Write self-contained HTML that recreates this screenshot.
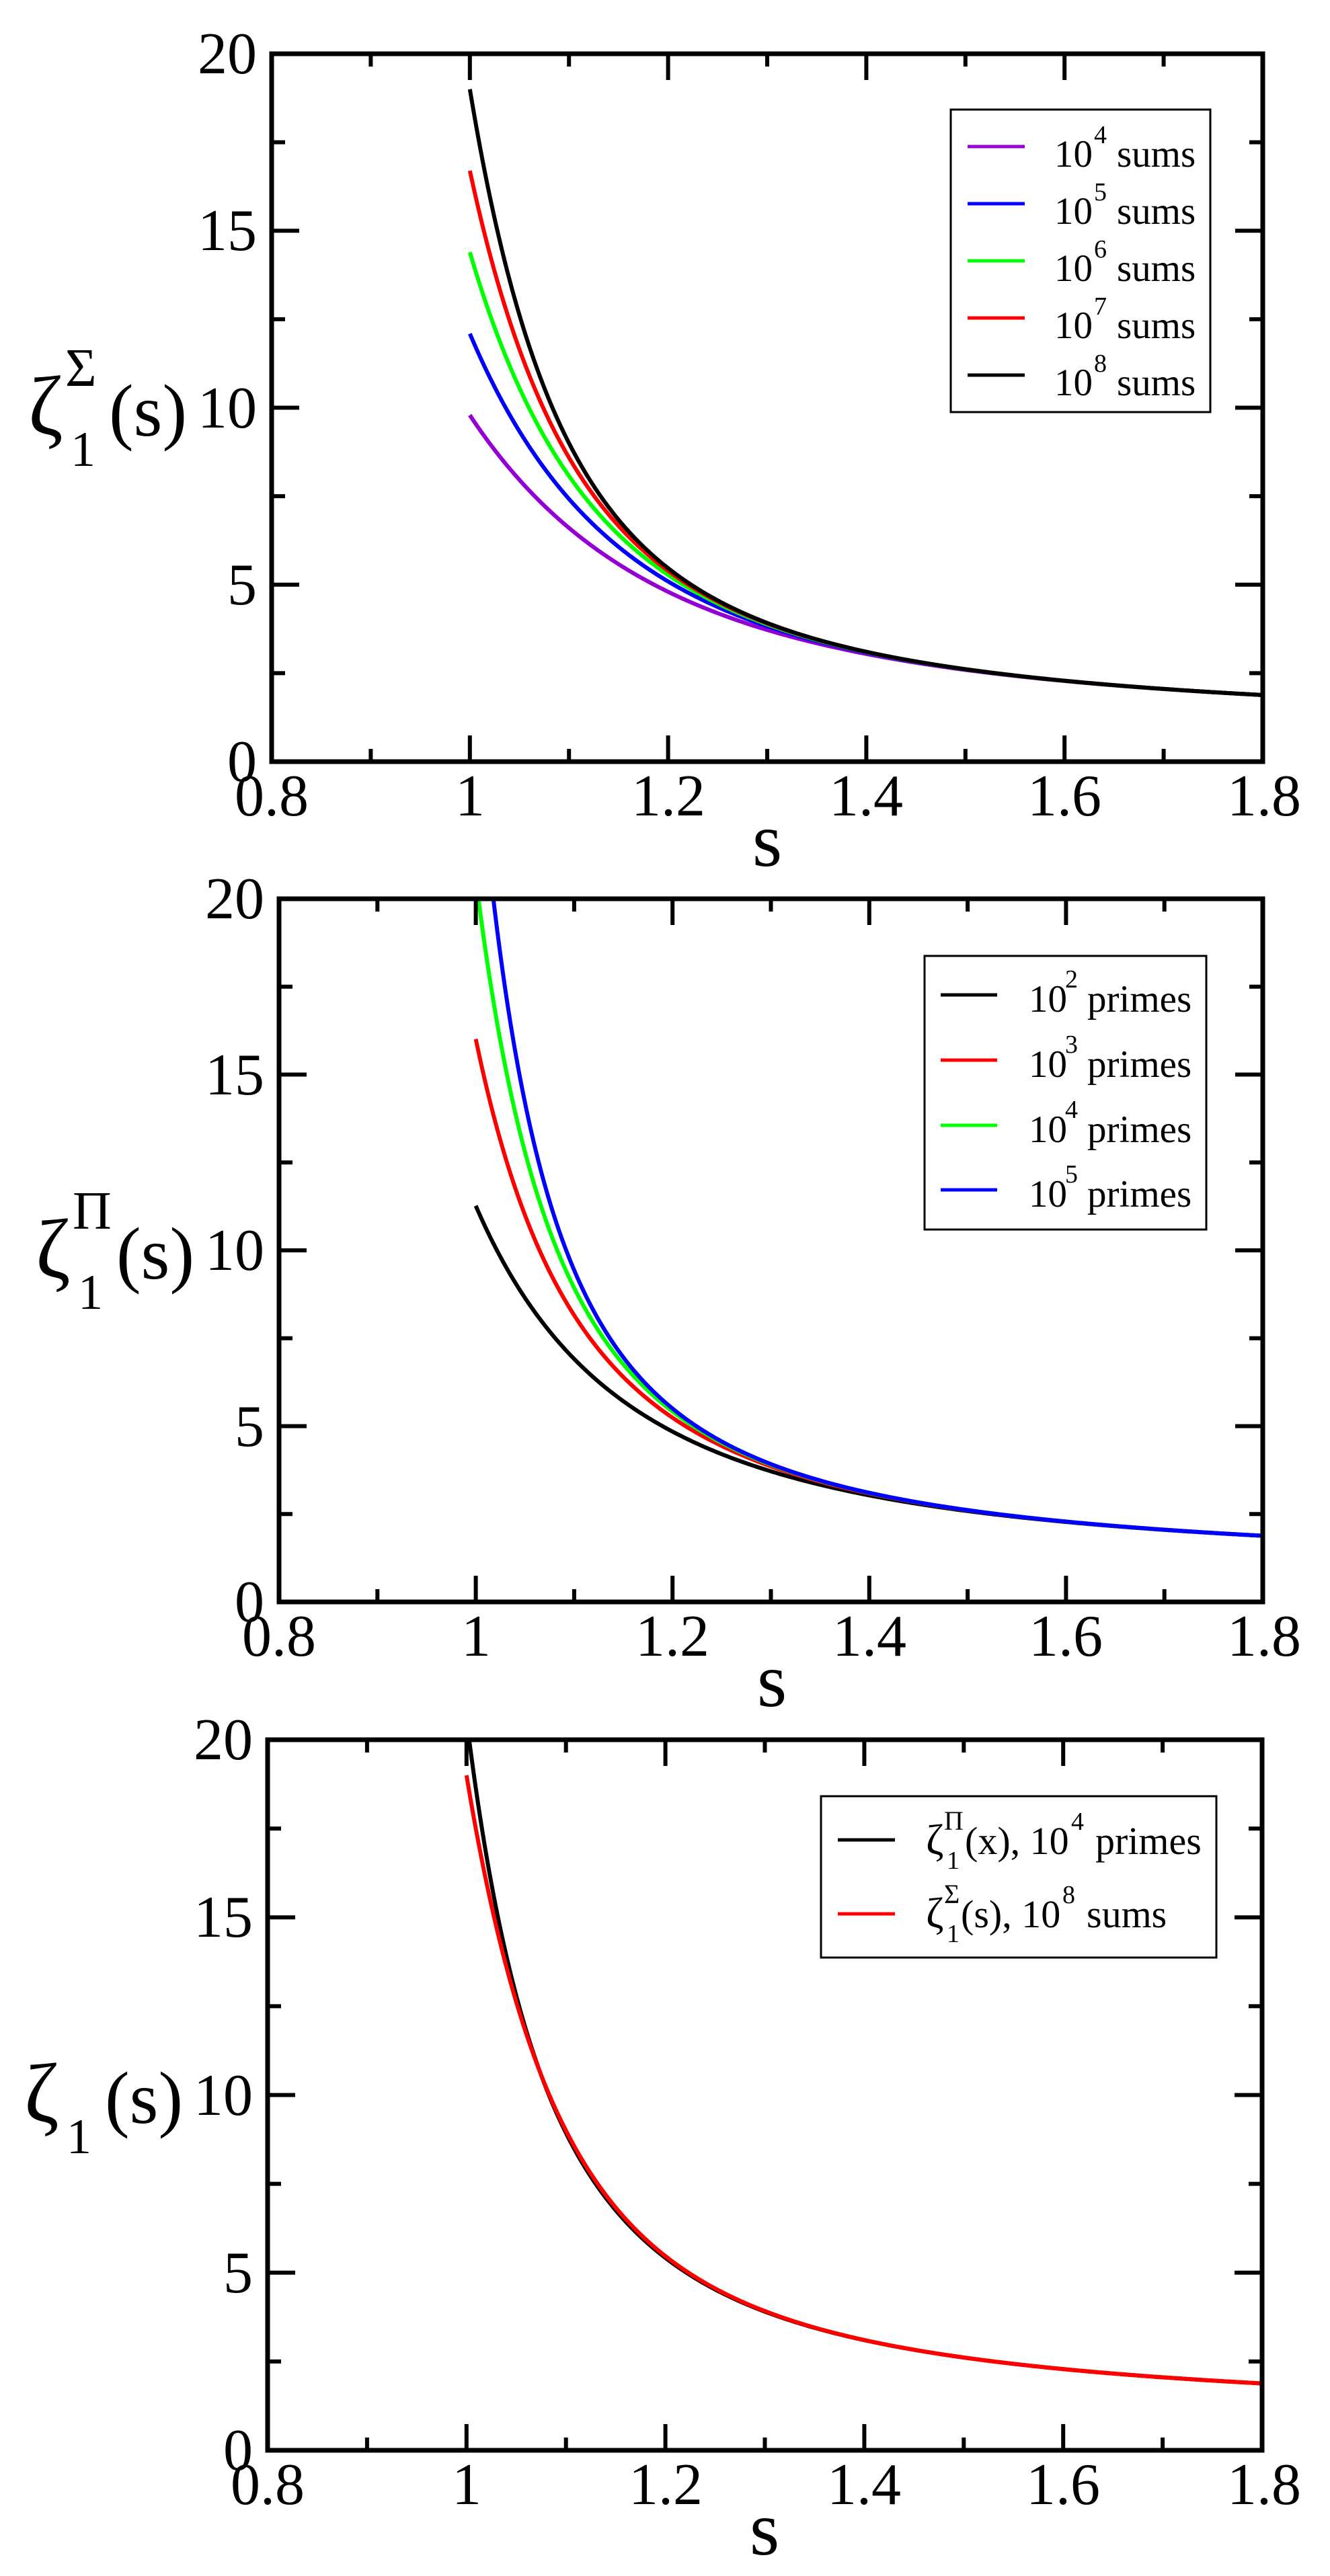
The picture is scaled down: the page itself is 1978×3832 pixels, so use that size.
<!DOCTYPE html>
<html><head><meta charset="utf-8"><style>
html,body{margin:0;padding:0;background:#fff}
svg{display:block}
svg text{font-family:"Liberation Serif","Times New Roman",Times,serif !important;fill:#000}
</style></head><body>
<svg id="svg" width="1978" height="3832" viewBox="0 0 1978 3832" xmlns="http://www.w3.org/2000/svg" font-family="Liberation Serif, Times New Roman, serif">
<defs>
<clipPath id="c1"><rect x="404" y="80" width="1474" height="1053"/></clipPath>
<clipPath id="c2"><rect x="415" y="1337" width="1463" height="1046"/></clipPath>
<clipPath id="c3"><rect x="398" y="2588" width="1479" height="1057"/></clipPath>
</defs>
<g id="curves"></g>
<g id="frames"></g>

<g font-family="Liberation Serif, serif">
<!-- Plot 1 labels -->
<g font-size="88">
<text x="382" y="1162" text-anchor="end">0</text>
<text x="382" y="899" text-anchor="end">5</text>
<text x="382" y="636" text-anchor="end">10</text>
<text x="382" y="372" text-anchor="end">15</text>
<text x="382" y="109" text-anchor="end">20</text>
<text x="404" y="1213" text-anchor="middle">0.8</text>
<text x="699" y="1213" text-anchor="middle">1</text>
<text x="994" y="1213" text-anchor="middle">1.2</text>
<text x="1288" y="1213" text-anchor="middle">1.4</text>
<text x="1583" y="1213" text-anchor="middle">1.6</text>
<text x="1880" y="1213" text-anchor="middle">1.8</text>
</g>
<text x="1141" y="1288" font-size="114" text-anchor="middle">s</text>
<text x="42" y="646" font-size="125">ζ</text>
<text x="97" y="574" font-size="80">Σ</text>
<text x="105" y="693" font-size="74">1</text>
<text x="162" y="648" font-size="110">(s)</text>

<!-- Plot 2 labels -->
<g font-size="88">
<text x="393" y="2412" text-anchor="end">0</text>
<text x="393" y="2151" text-anchor="end">5</text>
<text x="393" y="1889" text-anchor="end">10</text>
<text x="393" y="1628" text-anchor="end">15</text>
<text x="393" y="1366" text-anchor="end">20</text>
<text x="415" y="2463" text-anchor="middle">0.8</text>
<text x="708" y="2463" text-anchor="middle">1</text>
<text x="1000" y="2463" text-anchor="middle">1.2</text>
<text x="1293" y="2463" text-anchor="middle">1.4</text>
<text x="1585" y="2463" text-anchor="middle">1.6</text>
<text x="1880" y="2463" text-anchor="middle">1.8</text>
</g>
<text x="1148" y="2538" font-size="114" text-anchor="middle">s</text>
<text x="53" y="1900" font-size="125">ζ</text>
<text x="108" y="1828" font-size="80">Π</text>
<text x="116" y="1947" font-size="74">1</text>
<text x="173" y="1902" font-size="110">(s)</text>

<!-- Plot 3 labels -->
<g font-size="88">
<text x="376" y="3674" text-anchor="end">0</text>
<text x="376" y="3410" text-anchor="end">5</text>
<text x="376" y="3146" text-anchor="end">10</text>
<text x="376" y="2881" text-anchor="end">15</text>
<text x="376" y="2617" text-anchor="end">20</text>
<text x="398" y="3725" text-anchor="middle">0.8</text>
<text x="694" y="3725" text-anchor="middle">1</text>
<text x="990" y="3725" text-anchor="middle">1.2</text>
<text x="1285" y="3725" text-anchor="middle">1.4</text>
<text x="1581" y="3725" text-anchor="middle">1.6</text>
<text x="1880" y="3725" text-anchor="middle">1.8</text>
</g>
<text x="1137" y="3800" font-size="114" text-anchor="middle">s</text>
<text x="36" y="3156" font-size="125">ζ</text>
<text x="99" y="3203" font-size="74">1</text>
<text x="156" y="3158" font-size="110">(s)</text>

<!-- Legend 1 -->
<rect x="1414" y="163" width="386" height="450" fill="#fff" stroke="#000" stroke-width="3"/>
<g stroke-width="5">
<line x1="1439" y1="218" x2="1524" y2="218" stroke="#9400d3"/>
<line x1="1439" y1="303" x2="1524" y2="303" stroke="#0000ff"/>
<line x1="1439" y1="388" x2="1524" y2="388" stroke="#00ff00"/>
<line x1="1439" y1="473" x2="1524" y2="473" stroke="#ff0000"/>
<line x1="1439" y1="558" x2="1524" y2="558" stroke="#000000"/>
</g>
<g font-size="57">
<text x="1568" y="248">10</text><text x="1661" y="248">sums</text>
<text x="1568" y="333">10</text><text x="1661" y="333">sums</text>
<text x="1568" y="418">10</text><text x="1661" y="418">sums</text>
<text x="1568" y="503">10</text><text x="1661" y="503">sums</text>
<text x="1568" y="588">10</text><text x="1661" y="588">sums</text>
</g>
<g font-size="38">
<text x="1627" y="213">4</text>
<text x="1627" y="298">5</text>
<text x="1627" y="383">6</text>
<text x="1627" y="468">7</text>
<text x="1627" y="553">8</text>
</g>

<!-- Legend 2 -->
<rect x="1375" y="1422" width="419" height="407" fill="#fff" stroke="#000" stroke-width="3"/>
<g stroke-width="5">
<line x1="1399" y1="1480" x2="1483" y2="1480" stroke="#000"/>
<line x1="1399" y1="1577" x2="1483" y2="1577" stroke="#ff0000"/>
<line x1="1399" y1="1674" x2="1483" y2="1674" stroke="#00ff00"/>
<line x1="1399" y1="1770" x2="1483" y2="1770" stroke="#0000ff"/>
</g>
<g font-size="57">
<text x="1530" y="1505">10</text><text x="1617" y="1505">primes</text>
<text x="1530" y="1602">10</text><text x="1617" y="1602">primes</text>
<text x="1530" y="1699">10</text><text x="1617" y="1699">primes</text>
<text x="1530" y="1795">10</text><text x="1617" y="1795">primes</text>
</g>
<g font-size="38">
<text x="1584" y="1469">2</text>
<text x="1584" y="1566">3</text>
<text x="1584" y="1663">4</text>
<text x="1584" y="1759">5</text>
</g>

<!-- Legend 3 -->
<rect x="1221" y="2672" width="588" height="240" fill="#fff" stroke="#000" stroke-width="3"/>
<line x1="1246" y1="2737" x2="1331" y2="2737" stroke="#000" stroke-width="5"/>
<line x1="1246" y1="2847" x2="1331" y2="2847" stroke="#ff0000" stroke-width="5"/>
<text x="1377" y="2758" font-size="64">ζ</text>
<text x="1404" y="2722" font-size="40">Π</text>
<text x="1408" y="2780" font-size="38">1</text>
<text x="1435" y="2758" font-size="58">(x), 10</text>
<text x="1593" y="2722" font-size="38">4</text>
<text x="1629" y="2758" font-size="58">primes</text>
<text x="1377" y="2867" font-size="64">ζ</text>
<text x="1404" y="2831" font-size="40">Σ</text>
<text x="1408" y="2889" font-size="38">1</text>
<text x="1429" y="2867" font-size="58">(s), 10</text>
<text x="1580" y="2831" font-size="38">8</text>
<text x="1616" y="2867" font-size="58">sums</text>
</g>
</svg>
<script>
(function(){
var NS="http://www.w3.org/2000/svg";
var P=[{L:404,R:1878,T:80,B:1133,c:"c1"},{L:415,R:1878,T:1337,B:2383,c:"c2"},{L:398,R:1877,T:2588,B:3645,c:"c3"}];
var curvesG=document.getElementById("curves"), framesG=document.getElementById("frames");
function el(n,a,p){var e=document.createElementNS(NS,n);for(var k in a)e.setAttribute(k,a[k]);p.appendChild(e);return e;}
var S=[];for(var i=0;i<=400;i++){var t=i/400;S.push(1+0.8*t*t);}
function zetaN(s,N){var M=50,sum=0;for(var n=1;n<M;n++)sum+=Math.pow(n,-s);
 var I; if(Math.abs(s-1)<1e-12) I=Math.log(N/M); else I=(Math.pow(M,1-s)-Math.pow(N,1-s))/(s-1);
 sum+=I+(Math.pow(M,-s)+Math.pow(N,-s))/2+(s*Math.pow(M,-s-1)-s*Math.pow(N,-s-1))/12;return sum;}
var LIM=1300000,sv=new Uint8Array(LIM+1),primes=[];
for(var a=2;a<=LIM&&primes.length<100000;a++){if(!sv[a]){primes.push(a);for(var b=a*a;b<=LIM;b+=a)sv[b]=1;}}
var targets=[100,1000,10000,100000];
var prodVals=targets.map(function(){return new Float64Array(S.length);});
for(var j=0;j<S.length;j++){var s=S[j],acc=0,ti=0;
 for(var k=0;k<100000;k++){acc+=-Math.log1p(-Math.pow(primes[k],-s));
  if(k+1===targets[ti]){prodVals[ti][j]=Math.exp(acc);ti++;}}}
function path(p,vals,color){var d="";for(var j=0;j<S.length;j++){var x=p.L+(S[j]-0.8)*(p.R-p.L);var v=Math.min(vals[j],25);var y=p.B-v/20*(p.B-p.T);d+=(j?"L":"M")+x.toFixed(2)+" "+y.toFixed(2);}
 el("path",{d:d,fill:"none",stroke:color,"stroke-width":6,"clip-path":"url(#"+p.c+")","stroke-linejoin":"round"},curvesG);}
function sums(N){return S.map(function(s){return zetaN(s,N);});}
var cols=["#9400d3","#0000ff","#00ff00","#ff0000","#000000"];
var Ns=[1e4,1e5,1e6,1e7,1e8];
for(var q=0;q<5;q++)path(P[0],sums(Ns[q]),cols[q]);
var c2=["#000000","#ff0000","#00ff00","#0000ff"];
for(q=0;q<4;q++)path(P[1],prodVals[q],c2[q]);
path(P[2],prodVals[2],"#000000");
path(P[2],sums(1e8),"#ff0000");
P.forEach(function(p){
 el("rect",{x:p.L,y:p.T,width:p.R-p.L,height:p.B-p.T,fill:"none",stroke:"#000","stroke-width":7},framesG);
 for(var i=0;i<=10;i++){var x=p.L+i*(p.R-p.L)/10;var len=(i%2==0)?39:19;
  el("line",{x1:x,y1:p.B,x2:x,y2:p.B-len,stroke:"#000","stroke-width":6},framesG);
  el("line",{x1:x,y1:p.T,x2:x,y2:p.T+len,stroke:"#000","stroke-width":6},framesG);}
 for(i=0;i<=8;i++){var y=p.B-i*(p.B-p.T)/8;var len2=(i%2==0)?41:20;
  el("line",{x1:p.L,y1:y,x2:p.L+len2,y2:y,stroke:"#000","stroke-width":6},framesG);
  el("line",{x1:p.R,y1:y,x2:p.R-len2,y2:y,stroke:"#000","stroke-width":6},framesG);}
});
})();
</script>
</body></html>
